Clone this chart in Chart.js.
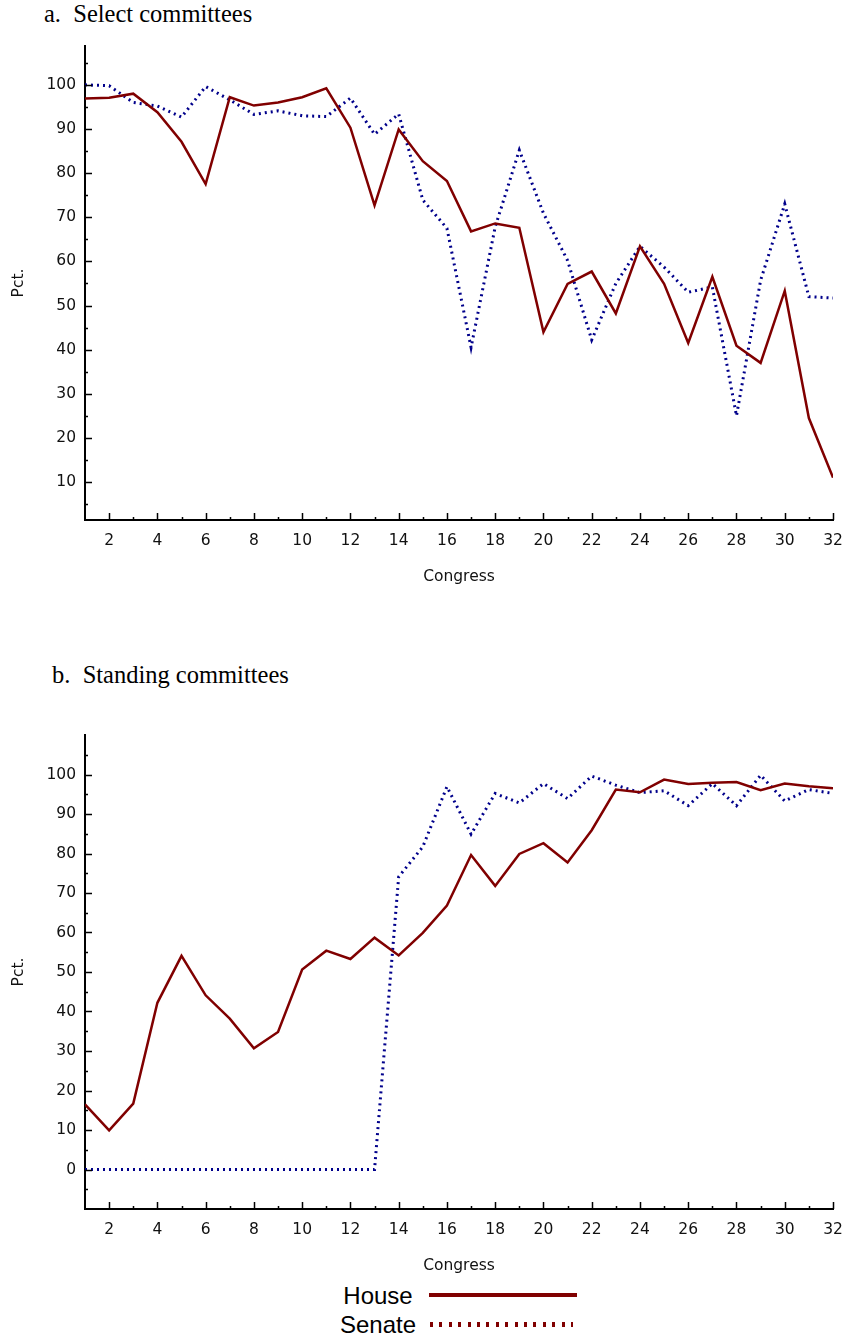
<!DOCTYPE html>
<html>
<head>
<meta charset="utf-8">
<script src="https://cdn.jsdelivr.net/npm/chart.js@4.4.1/dist/chart.umd.min.js"></script>
<style>
  body { margin: 0; background: #fff; width: 843px; height: 1339px; position: relative; overflow: hidden; }
  .panel-title { position: absolute; font-family: "Liberation Serif", "Times New Roman", serif; font-size: 24.5px; line-height: 24px; color: #000; white-space: pre; }
  .chart-box { position: absolute; left: 0; width: 843px; height: 590px; }
  .lg-text { position: absolute; left: 318px; width: 120px; text-align: center; font-family: "Liberation Sans", Arial, sans-serif; font-size: 24px; line-height: 28px; color: #000; }
  .lg-solid { position: absolute; left: 429px; width: 148px; top: 1293px; height: 4px; background: #800000; }
  .lg-dots { position: absolute; left: 430px; width: 143px; top: 1322px; height: 5px;
             background: repeating-linear-gradient(to right, #800000 0 3px, transparent 3px 9.4px); }
</style>
</head>
<body>
<div class="panel-title" style="left:44px; top:2px;">a.  Select committees</div>
<div class="chart-box" style="top:0px;"><canvas id="selectChart" width="843" height="590"></canvas></div>

<div class="panel-title" style="left:52px; top:663px;">b.  Standing committees</div>
<div class="chart-box" style="top:689px;"><canvas id="standingChart" width="843" height="590"></canvas></div>

<div class="lg-text" style="top:1282px;">House</div>
<div class="lg-solid"></div>
<div class="lg-text" style="top:1311px;">Senate</div>
<div class="lg-dots"></div>

<script>
const congresses = [1, 2, 3, 4, 5, 6, 7, 8, 9, 10, 11, 12, 13, 14, 15, 16,
                    17, 18, 19, 20, 21, 22, 23, 24, 25, 26, 27, 28, 29, 30, 31, 32];

// a. Select committees
const selectHouse = [96.9, 97.1, 98.0, 93.8, 87.1, 77.5, 97.2, 95.3, 96.0, 97.2, 99.2, 90.3,
                     72.7, 89.9, 82.7, 78.2, 66.8, 68.6, 67.6, 44.0, 54.9, 57.7, 48.2, 63.4,
                     54.9, 41.5, 56.5, 40.9, 37.0, 53.3, 24.5, 11.0];
const selectSenate = [100.0, 99.8, 96.0, 95.2, 92.7, 99.6, 96.6, 93.3, 94.1, 93.0, 92.8, 97.0,
                      88.8, 93.4, 73.9, 67.5, 40.5, 67.8, 85.2, 70.9, 60.2, 42.2, 55.0, 63.4,
                      58.7, 53.0, 54.2, 25.0, 55.7, 73.0, 52.0, 51.7];

// b. Standing committees
const standingHouse = [16.5, 9.9, 16.7, 42.2, 54.1, 44.1, 38.2, 30.7, 34.8, 50.6, 55.4, 53.3,
                       58.7, 54.2, 59.9, 66.8, 79.6, 71.8, 79.9, 82.6, 77.7, 85.9, 96.2, 95.5,
                       98.7, 97.6, 97.9, 98.1, 96.0, 97.7, 97.0, 96.5];
const standingSenate = [0, 0, 0, 0, 0, 0, 0, 0, 0, 0, 0, 0,
                        0, 74.1, 81.7, 96.9, 84.9, 95.2, 92.8, 97.7, 93.9, 99.6, 97.3, 95.4,
                        95.9, 92.1, 97.7, 92.1, 99.8, 93.3, 96.2, 95.2];

const xTickLabels = [2, 4, 6, 8, 10, 12, 14, 16, 18, 20, 22, 24, 26, 28, 30, 32];
const selectYTicks = [10, 20, 30, 40, 50, 60, 70, 80, 90, 100];
const standingYTicks = [0, 10, 20, 30, 40, 50, 60, 70, 80, 90, 100];

const FONT = '"DejaVu Sans", Arial, sans-serif';
const FONT_SIZE = 15.5;
const HOUSE_COLOR = '#800000';
const SENATE_COLOR = '#00008b';

// tick marks point into the plot, long on labelled values, short in between
const innerTicks = {
  id: 'innerTicks',
  afterDraw(chart, args, opts) {
    const { ctx, chartArea, scales: { x, y } } = chart;
    ctx.save();
    ctx.strokeStyle = '#000';
    ctx.lineWidth = 1.5;
    ctx.beginPath();
    for (let v = 2; v <= 32; v++) {
      const px = Math.round(x.getPixelForValue(v)) + 0.5;
      const len = v % 2 === 0 ? 7 : 3;
      ctx.moveTo(px, chartArea.bottom);
      ctx.lineTo(px, chartArea.bottom - len);
    }
    for (let v = opts.yFrom; v <= opts.yTo; v += 5) {
      const py = Math.round(y.getPixelForValue(v)) + 0.5;
      const len = v % 10 === 0 ? 7 : 3;
      ctx.moveTo(chartArea.left, py);
      ctx.lineTo(chartArea.left + len, py);
    }
    ctx.stroke();
    ctx.restore();
  }
};

function makeChart(id, house, senate, yMin, yMax, yTicks, markFrom, markTo) {
  return new Chart(document.getElementById(id), {
    type: 'line',
    data: {
      labels: congresses,
      datasets: [
        { label: 'House', data: house, borderColor: HOUSE_COLOR, borderWidth: 2.5,
          pointRadius: 0, tension: 0, fill: false },
        { label: 'Senate', data: senate, borderColor: SENATE_COLOR, borderWidth: 3,
          borderDash: [2, 4], borderCapStyle: 'butt', pointRadius: 0, tension: 0, fill: false }
      ]
    },
    options: {
      responsive: false,
      animation: false,
      layout: { padding: { top: 46, right: 10, left: 0, bottom: 0 } },
      plugins: {
        legend: { display: false },
        tooltip: { enabled: false },
        innerTicks: { yFrom: markFrom, yTo: markTo }
      },
      scales: {
        x: {
          type: 'linear', min: 1, max: 32,
          afterBuildTicks: s => { s.ticks = xTickLabels.map(v => ({ value: v })); },
          afterFit: s => { s.height = 70; s.paddingLeft = 0; s.paddingRight = 0; },
          grid: { display: false, drawTicks: false },
          border: { display: true, color: '#000', width: 2 },
          ticks: { padding: 12, color: '#111', font: { family: FONT, size: FONT_SIZE },
                   maxRotation: 0, autoSkip: false, callback: v => String(v) },
          title: { display: true, text: 'Congress', color: '#111',
                   font: { family: FONT, size: FONT_SIZE }, padding: { top: 0, bottom: 4.2 } }
        },
        y: {
          min: yMin, max: yMax,
          afterBuildTicks: s => { s.ticks = yTicks.map(v => ({ value: v })); },
          afterFit: s => { s.width = 85; },
          grid: { display: false, drawTicks: false },
          border: { display: true, color: '#000', width: 2 },
          ticks: { padding: 9, color: '#111', font: { family: FONT, size: FONT_SIZE },
                   callback: v => String(v) },
          title: { display: true, text: 'Pct.', color: '#111',
                   font: { family: FONT, size: FONT_SIZE }, padding: { top: 9.2, bottom: 0 } }
        }
      }
    },
    plugins: [innerTicks]
  });
}

makeChart('selectChart', selectHouse, selectSenate, 1.4, 108.8, selectYTicks, 5, 105);
makeChart('standingChart', standingHouse, standingSenate, -10, 110, standingYTicks, -5, 105);
</script>
</body>
</html>
